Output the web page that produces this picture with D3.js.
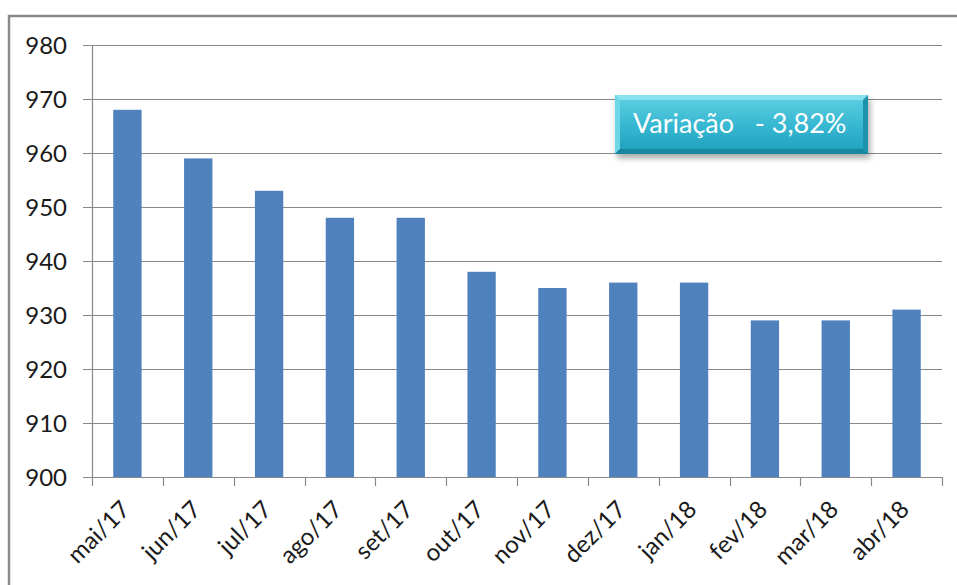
<!DOCTYPE html>
<html>
<head>
<meta charset="utf-8">
<script src="https://cdn.jsdelivr.net/npm/d3@7"></script>
<style>
  body { margin: 0; background: #fff; }
  svg { display: block; font-family: Lato, "Open Sans", sans-serif; }
</style>
</head>
<body>
<svg id="canvas" width="957" height="585"></svg>
<script>
let months = ["mai/17", "jun/17", "jul/17", "ago/17", "set/17", "out/17",
              "nov/17", "dez/17", "jan/18", "fev/18", "mar/18", "abr/18"];
let values = [968, 959, 953, 948, 948, 938, 935, 936, 936, 929, 929, 931];
let yTicks = [900, 910, 920, 930, 940, 950, 960, 970, 980];
let note = "Variação   - 3,82%";

let svg = d3.select("#canvas");

let plotLeft = 92, plotRight = 942, plotTop = 45, plotBottom = 477;

let x = d3.scaleBand().domain(months).range([plotLeft, plotRight]).paddingInner(0.6).paddingOuter(0.3);
let y = d3.scaleLinear().domain([900, 980]).range([plotBottom, plotTop]);

// chart frame
svg.append("rect")
    .attr("x", 9).attr("y", 16)
    .attr("width", 990).attr("height", 620)
    .attr("fill", "none")
    .attr("stroke", "#8a8a8a")
    .attr("stroke-width", 2.5);

// gridlines
svg.append("g")
    .selectAll("line")
    .data(yTicks)
    .enter()
    .append("line")
    .attr("x1", plotLeft - 9).attr("x2", plotRight)
    .attr("y1", (d) => Math.round(y(d)) + 0.5)
    .attr("y2", (d) => Math.round(y(d)) + 0.5)
    .attr("stroke", "#888888")
    .attr("stroke-width", 1.2);

// y labels
svg.append("g")
    .selectAll("text")
    .data(yTicks)
    .enter()
    .append("text")
    .attr("x", 67)
    .attr("y", (d) => y(d))
    .attr("dy", "0.36em")
    .attr("text-anchor", "end")
    .attr("font-size", 24)
    .attr("fill", "#1a1a1a")
    .text((d) => d);

// y axis line
svg.append("line")
    .attr("x1", plotLeft + 0.5).attr("x2", plotLeft + 0.5)
    .attr("y1", plotTop).attr("y2", plotBottom)
    .attr("stroke", "#888888")
    .attr("stroke-width", 1.2);

// x ticks
let xTickPos = months.map((m) => x(m) - x.step() * x.paddingInner() / 2);
xTickPos.push(plotRight);
svg.append("g")
    .selectAll("line")
    .data(xTickPos)
    .enter()
    .append("line")
    .attr("x1", (d) => Math.round(d) + 0.5)
    .attr("x2", (d) => Math.round(d) + 0.5)
    .attr("y1", plotBottom).attr("y2", plotBottom + 9)
    .attr("stroke", "#888888")
    .attr("stroke-width", 1.2);

// bars
svg.append("g")
    .selectAll("rect")
    .data(values)
    .enter()
    .append("rect")
    .attr("x", (d, i) => x(months[i]))
    .attr("y", (d) => y(d))
    .attr("width", x.bandwidth())
    .attr("height", (d) => plotBottom - y(d))
    .attr("fill", "#4f81bd");

// x labels
svg.append("g")
    .selectAll("text")
    .data(months)
    .enter()
    .append("text")
    .attr("transform", (m) => "translate(" + (x(m) + x.bandwidth() / 2 + 4) + "," + (plotBottom + 34) + ") rotate(-45)")
    .attr("text-anchor", "end")
    .attr("font-size", 24)
    .attr("fill", "#1a1a1a")
    .text((m) => m);

// variation box
let defs = svg.append("defs");
let grad = defs.append("linearGradient").attr("id", "boxgrad")
    .attr("x1", 0).attr("y1", 0).attr("x2", 0).attr("y2", 1);
grad.append("stop").attr("offset", "0%").attr("stop-color", "#5fd0e2");
grad.append("stop").attr("offset", "55%").attr("stop-color", "#35b6d0");
grad.append("stop").attr("offset", "100%").attr("stop-color", "#1f9fba");
let shadow = defs.append("filter").attr("id", "shadow")
    .attr("x", "-10%").attr("y", "-20%").attr("width", "130%").attr("height", "160%");
shadow.append("feDropShadow").attr("dx", 2).attr("dy", 4).attr("stdDeviation", 3)
    .attr("flood-color", "#000").attr("flood-opacity", 0.35);

let bx = 615, by = 95, bw = 253, bh = 59, bev = 5;
let box = svg.append("g");
box.append("rect")
    .attr("x", bx).attr("y", by).attr("width", bw).attr("height", bh)
    .attr("fill", "url(#boxgrad)")
    .attr("filter", "url(#shadow)");
// bevel edges
box.append("polygon")
    .attr("points", [[bx, by], [bx + bw, by], [bx + bw - bev, by + bev], [bx + bev, by + bev]].join(" "))
    .attr("fill", "#8be2ef");
box.append("polygon")
    .attr("points", [[bx, by], [bx + bev, by + bev], [bx + bev, by + bh - bev], [bx, by + bh]].join(" "))
    .attr("fill", "#6fd6e8");
box.append("polygon")
    .attr("points", [[bx + bw, by], [bx + bw, by + bh], [bx + bw - bev, by + bh - bev], [bx + bw - bev, by + bev]].join(" "))
    .attr("fill", "#1f93ad");
box.append("polygon")
    .attr("points", [[bx, by + bh], [bx + bev, by + bh - bev], [bx + bw - bev, by + bh - bev], [bx + bw, by + bh]].join(" "))
    .attr("fill", "#17869f");
box.append("text")
    .attr("x", 633).attr("y", 133)
    .attr("font-size", 27)
    .attr("fill", "#ffffff")
    .attr("xml:space", "preserve")
    .style("white-space", "pre")
    .text(note);
</script>
</body>
</html>
